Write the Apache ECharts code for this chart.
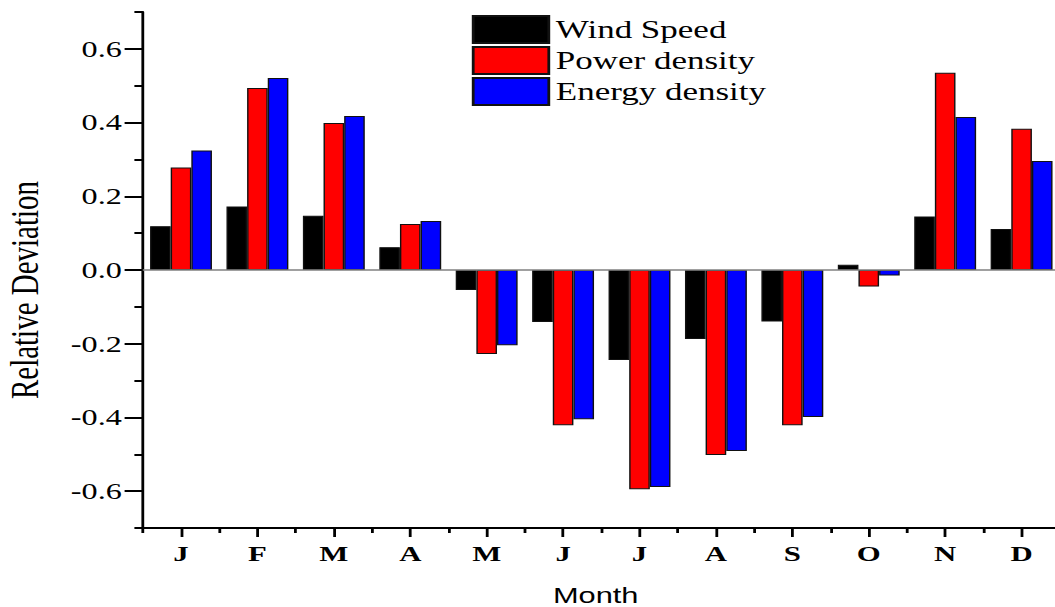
<!DOCTYPE html>
<html>
<head>
<meta charset="utf-8">
<script src="https://cdn.jsdelivr.net/npm/echarts@6/dist/echarts.min.js"></script>
<style>
  html, body { margin: 0; padding: 0; background: #fff; overflow: hidden; }
  /* the figure is drawn narrow and widened, giving the wide glyph shapes */
  #chart { width: 753.6px; height: 607px; transform: scaleX(1.4); transform-origin: 0 0; }
</style>
</head>
<body>
<div id="chart"></div>
<script>
// Monthly relative deviation of wind speed, power density and energy density
const months = ['J', 'F', 'M', 'A', 'M', 'J', 'J', 'A', 'S', 'O', 'N', 'D'];
const windSpeed     = [0.119, 0.172, 0.147, 0.062, -0.054, -0.141, -0.244, -0.187, -0.140, 0.014, 0.145, 0.111];
const powerDensity  = [0.278, 0.494, 0.399, 0.125, -0.228, -0.421, -0.595, -0.502, -0.421, -0.045, 0.535, 0.383];
const energyDensity = [0.324, 0.521, 0.418, 0.133, -0.204, -0.405, -0.589, -0.491, -0.399, -0.015, 0.415, 0.296];

// value axis range and tick positions
const yMin = -0.7, yMax = 0.7;
const yMajorTicks = [-0.6, -0.4, -0.2, 0.0, 0.2, 0.4, 0.6];
const yMinorTicks = [-0.7, -0.5, -0.3, -0.1, 0.1, 0.3, 0.5, 0.7];

const serif = '"Liberation Serif", "Times New Roman", serif';
const sans = '"Liberation Sans", Arial, sans-serif';
const axisStroke = { color: '#000', width: 2 };

const chart = echarts.init(document.getElementById('chart'), null, { renderer: 'svg' });

function barSeries(name, color, values) {
  return {
    name: name,
    type: 'bar',
    data: values,
    xAxisIndex: 0,
    yAxisIndex: 0,
    barGap: '0%',
    barCategoryGap: '19%',
    itemStyle: { color: color, borderColor: '#111', borderWidth: 1 },
    emphasis: { disabled: true }
  };
}

const series = [
  barSeries('Wind Speed', '#000000', windSpeed),
  barSeries('Power density', '#ff0000', powerDensity),
  barSeries('Energy density', '#0000ff', energyDensity)
];
// zero reference line
series[0].markLine = {
  silent: true,
  symbol: 'none',
  label: { show: false },
  lineStyle: { color: '#808080', width: 1.5, type: 'solid' },
  data: [{ yAxis: 0 }]
};

chart.setOption({
  animation: false,
  backgroundColor: '#fff',
  grid: { left: 102, top: 12, width: 655, height: 516, containLabel: false, outerBoundsMode: 'none' },
  legend: {
    orient: 'vertical',
    left: 337,
    top: 15,
    padding: 0,
    itemWidth: 54,
    itemHeight: 27,
    itemGap: 2,
    icon: 'rect',
    selectedMode: false,
    textStyle: { fontFamily: serif, fontSize: 25, lineHeight: 27, color: '#000' },
    data: ['Wind Speed', 'Power density', 'Energy density']
  },
  xAxis: [
    {
      type: 'category',
      position: 'bottom',
      data: months,
      name: 'Month',
      nameLocation: 'middle',
      nameGap: 57,
      nameTextStyle: { fontFamily: sans, fontSize: 22, color: '#000', padding: [0, 8, 0, 0] },
      axisLine: { show: true, onZero: false, lineStyle: axisStroke },
      axisTick: { show: true, alignWithLabel: true, length: 9, lineStyle: axisStroke },
      axisLabel: { margin: 15, fontFamily: serif, fontSize: 22, fontWeight: 'bold', color: '#000' },
      splitLine: { show: false }
    },
    {
      type: 'category',
      position: 'bottom',
      data: months,
      axisLine: { show: false, onZero: false },
      axisTick: { show: true, length: 5, lineStyle: axisStroke },
      axisLabel: { show: false },
      splitLine: { show: false }
    }
  ],
  yAxis: [
    {
      type: 'value',
      position: 'left',
      min: yMin,
      max: yMax,
      name: 'Relative Deviation',
      nameLocation: 'middle',
      nameGap: 70,
      nameTextStyle: { fontFamily: serif, fontSize: 29, color: '#000', padding: [0, 40, 0, 0] },
      axisLine: { show: true, lineStyle: axisStroke },
      axisTick: { show: true, length: 13, lineStyle: axisStroke, customValues: yMajorTicks },
      axisLabel: {
        margin: 15,
        fontFamily: serif,
        fontSize: 23,
        color: '#000',
        customValues: yMajorTicks,
        formatter: v => v.toFixed(1)
      },
      splitLine: { show: false }
    },
    {
      type: 'value',
      position: 'left',
      min: yMin,
      max: yMax,
      axisLine: { show: false },
      axisTick: { show: true, length: 6, lineStyle: axisStroke, customValues: yMinorTicks },
      axisLabel: { show: false },
      splitLine: { show: false }
    }
  ],
  series: series
});
</script>
</body>
</html>
